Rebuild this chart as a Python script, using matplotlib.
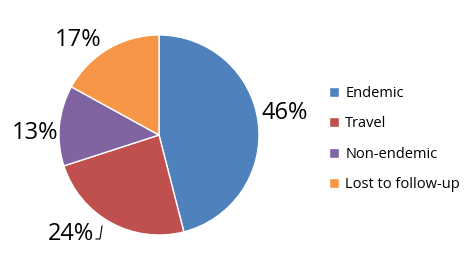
import matplotlib
matplotlib.use("Agg")
import matplotlib.pyplot as plt

categories = ["Endemic", "Travel", "Non-endemic", "Lost to follow-up"]
values = [46, 24, 13, 17]
labels = ["46%", "24%", "13%", "17%"]
colors = ["#4F81BD", "#C0504D", "#8064A2", "#F79646"]

W, H = 470, 270
fig = plt.figure(figsize=(W / 100, H / 100), dpi=100)
cx, cy, r = 159, 135, 100
ax = fig.add_axes([(cx - r) / W, (H - cy - r) / H, 2 * r / W, 2 * r / H])
wedges, _ = ax.pie(values, colors=colors, startangle=90, counterclock=False,
                   radius=1, wedgeprops=dict(edgecolor="white", linewidth=1))
ax.set_xlim(-1, 1)
ax.set_ylim(-1, 1)
ax.set_aspect("equal")
ax.axis("off")

def px(x, y):
    return ((x - cx) / r, (cy - y) / r)

label_pos = [(285, 113), (71, 234), (35, 133), (78, 40)]
for lab, (x, y) in zip(labels, label_pos):
    dx, dy = px(x, y)
    ax.text(dx, dy, lab, ha="center", va="center", fontsize=17,
            family="Open Sans", clip_on=False)

# leader line for 24%
p1 = px(96, 239); p2 = px(100, 239); p3 = px(102, 226)
ax.plot([p1[0], p2[0], p3[0]], [p1[1], p2[1], p3[1]], color="black", lw=0.8, clip_on=False)

leg = fig.legend(wedges, categories, loc="upper left",
                 bbox_to_anchor=(316 / W, 1 - 73 / H), frameon=False,
                 handlelength=0.7, handleheight=0.7, handletextpad=0.4,
                 labelspacing=1.05, prop=dict(family="Open Sans", size=10.5))

fig.savefig("out.png", dpi=100)
